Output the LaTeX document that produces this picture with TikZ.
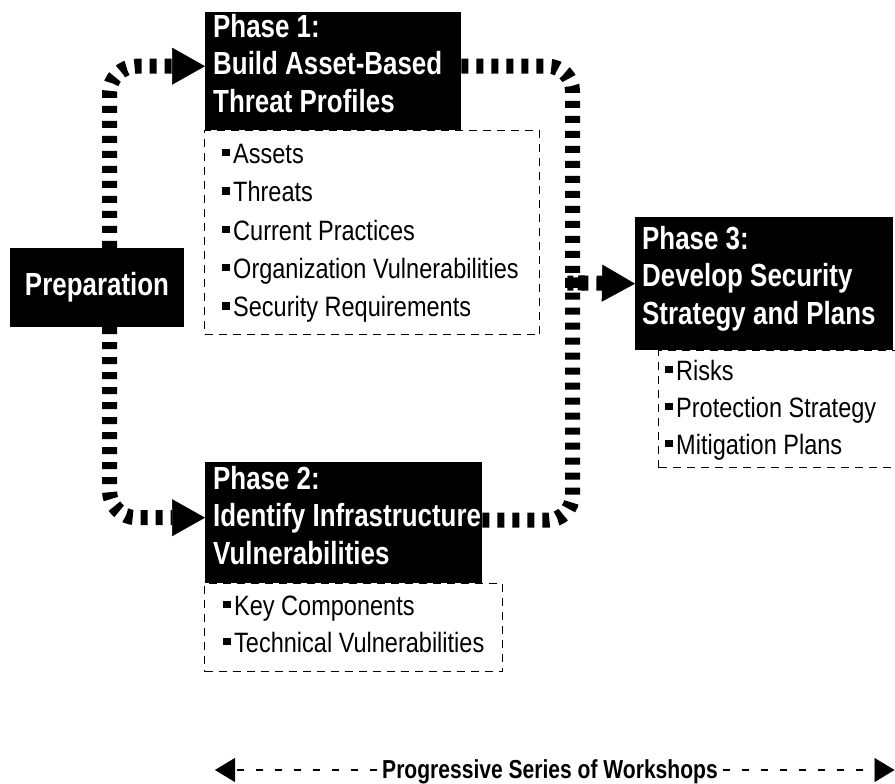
\documentclass[tikz,border=0pt]{standalone}
\usepackage{fontspec}
\setmainfont{Liberation Sans}
\newfontfamily\titlefont{Liberation Sans}[FakeStretch=0.81]
\newfontfamily\itemfont{Liberation Sans}[FakeStretch=0.84]
\usetikzlibrary{arrows.meta}
\newcommand\itembullet{\rule[7pt]{7.5pt}{7.5pt}\hspace{3.5pt}}
\begin{document}
\begin{tikzpicture}[x=1pt,y=-1pt,
  pbox/.style={fill=black, draw=none, anchor=north west, inner sep=0pt},
  ptext/.style={text=white, anchor=north west, inner sep=0pt, align=left,
    font=\titlefont\bfseries\fontsize{32}{37.5}\selectfont},
  dbox/.style={draw=black, line width=1.3pt, dash pattern=on 8pt off 6pt,
    anchor=north west, inner sep=0pt},
  itemtext/.style={anchor=base west, inner sep=0pt,
    font=\itemfont\fontsize{28}{34}\selectfont},
  flow/.style={draw=black, line width=15pt, dash pattern=on 7pt off 8pt},
  bigtip/.style={-{Triangle[length=33pt,width=37pt,line width=0.5pt]}},
  wline/.style={draw=black, line width=2.5pt, dash pattern=on 7pt off 12pt,
    -{Triangle[length=20pt,width=24pt,line width=0.5pt]}}
]
\useasboundingbox (0,0) rectangle (895,784);

% dashed list boxes
\node[dbox, minimum width=335pt, minimum height=204pt] (l1) at (204,130) {};
\node[dbox, minimum width=298pt, minimum height=88pt] (l2) at (204,583) {};
\node[dbox, minimum width=237pt, minimum height=117pt] (l3) at (658,350) {};

% black phase boxes
\node[pbox, minimum width=256pt, minimum height=118pt] (p1) at (205,12) {};
\node[pbox, minimum width=277pt, minimum height=121pt] (p2) at (205,462) {};
\node[pbox, minimum width=258pt, minimum height=133pt] (p3) at (635,217) {};
\node[fill=black, text=white, minimum width=174pt, minimum height=79pt, inner sep=0pt,
  font=\titlefont\bfseries\fontsize{32}{37.5}\selectfont] (prep) at (97,287.5) {Preparation};

% titles
\node[ptext] (p1t) at (213,12) {\rule{0pt}{25pt}Phase 1:\\Build Asset-Based\\Threat Profiles};
\node[ptext] (p2t) at (213,464) {\rule{0pt}{25pt}Phase 2:\\Identify Infrastructure\\Vulnerabilities};
\node[ptext] (p3t) at (642,224) {\rule{0pt}{25pt}Phase 3:\\Develop Security\\Strategy and Plans};

% items phase 1
\node[itemtext] (a1) at (222,163.3) {\itembullet Assets};
\node[itemtext] (a2) at (222,201.7) {\itembullet Threats};
\node[itemtext] (a3) at (222,240) {\itembullet Current Practices};
\node[itemtext] (a4) at (222,278.3) {\itembullet Organization Vulnerabilities};
\node[itemtext] (a5) at (222,316.7) {\itembullet Security Requirements};
% items phase 2
\node[itemtext] (b1) at (223,615) {\itembullet Key Components};
\node[itemtext] (b2) at (223,652) {\itembullet Technical Vulnerabilities};
% items phase 3
\node[itemtext] (c1) at (665,380) {\itembullet Risks};
\node[itemtext] (c2) at (665,417) {\itembullet Protection Strategy};
\node[itemtext] (c3) at (665,454) {\itembullet Mitigation Plans};

% flow connectors
\coordinate (junc) at (572.5,283);
\draw[flow, bigtip, rounded corners=27pt] ([xshift=12.5pt]prep.north) |- ([yshift=5pt]p1.west);
\draw[flow, bigtip, rounded corners=27pt] ([xshift=12.5pt]prep.south) |- ([yshift=5pt]p2.west);
\draw[flow, bigtip, rounded corners=25pt] ([yshift=5pt]p1.east) -| ([yshift=20pt]junc)
  .. controls (junc) .. ([xshift=20pt]junc) -- (p3.west);
\draw[flow, rounded corners=25pt] ([yshift=2.5pt]p2.east) -| ([yshift=-20pt]junc)
  .. controls (junc) .. ([xshift=20pt]junc);

% workshops arrow
\node[inner sep=0pt, anchor=base, font=\titlefont\bfseries\fontsize{26}{30}\selectfont] (ws) at (550,778) {Progressive Series of Workshops};
\coordinate (wl) at (215,770);
\coordinate (wr) at (894.5,770);
\draw[wline] ([xshift=-5pt]ws.west |- wl) -- (wl);
\draw[wline] ([xshift=5pt]ws.east |- wr) -- (wr);
\end{tikzpicture}
\end{document}
